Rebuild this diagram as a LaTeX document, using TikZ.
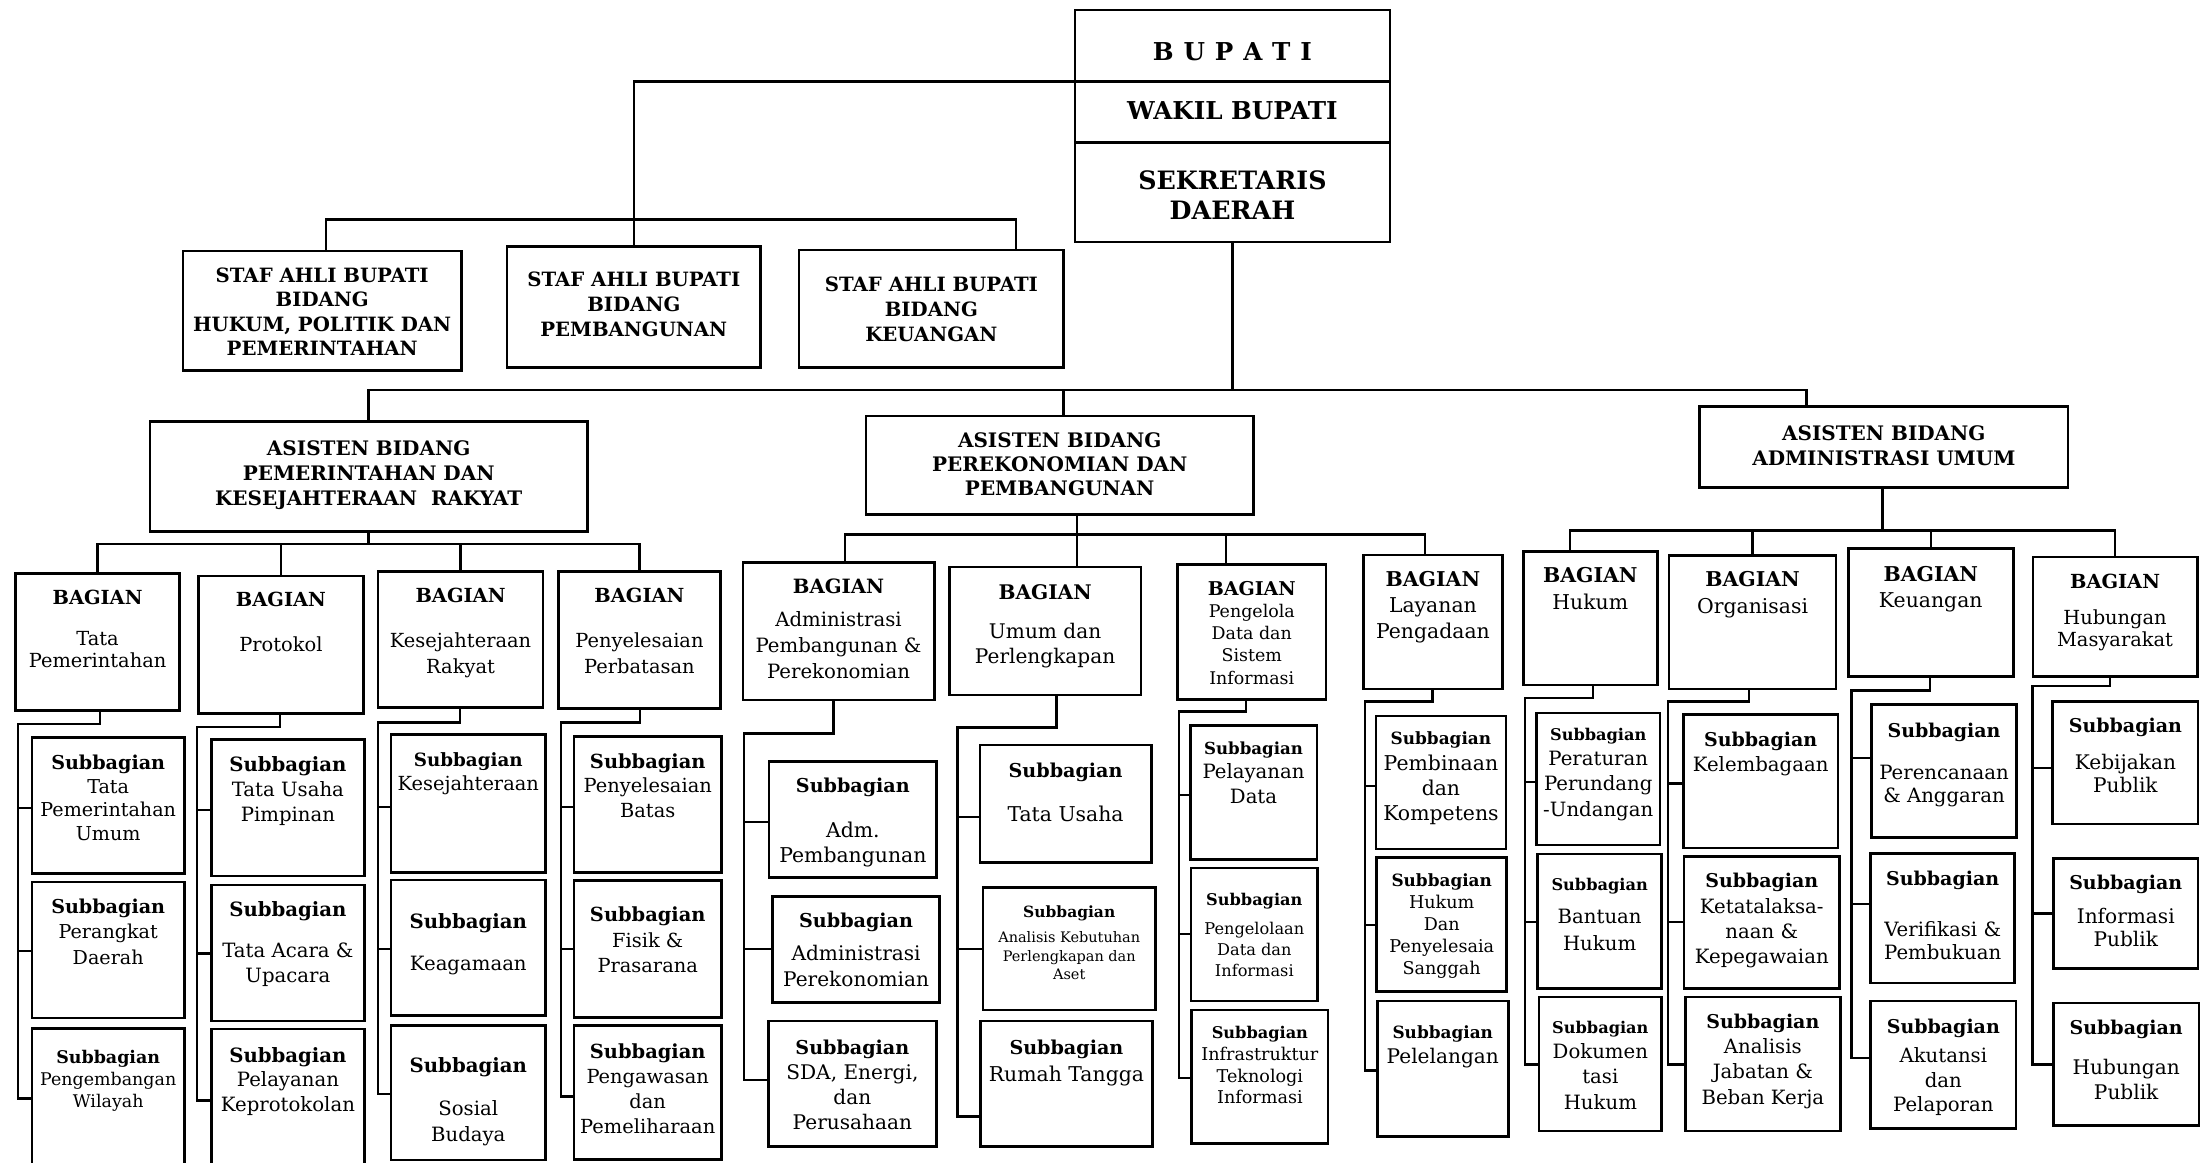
\documentclass[tikz,border=0pt]{standalone}
\usepackage{fontspec}
\setmainfont{DejaVu Serif}
\newcommand\B[1]{\textbf{#1}}
\newcommand\Bz[2]{{\fontsize{#1}{#1}\selectfont\bfseries #2}}
\tikzset{
  boxst/.style={draw, rectangle, line width=1.9pt, inner sep=0pt, outer sep=0pt},
  txtst/.style={inner sep=0pt, outer sep=0pt, align=center},
  ln/.style={line width=1.7pt}
}
\newcommand\bx[5]{\node[boxst, minimum width={(#4)-(#2)}, minimum height={(#5)-(#3)}] (#1) at ({((#2)+(#4))/2},{((#3)+(#5))/2}) {};}
\newcommand\tx[5]{\node[txtst, font=\fontsize{#3}{#4}\selectfont, anchor=north] (#1t) at ([yshift=-#2pt]#1.north) {#5};}
\newcommand\spine[8]{%
 \coordinate (#2c) at (#3,#4); \coordinate (#2j) at (#5,#4);
 \coordinate (#2k1) at (#5,#6); \coordinate (#2k2) at (#5,#7); \coordinate (#2k3) at (#5,#8);
 \draw[ln] (#1.south -| #2c) -- (#2c) -- (#2j) -- (#2k3) -- (#2s3.west |- #2k3);
 \draw[ln] (#2k1) -- (#2s1.west |- #2k1);
 \draw[ln] (#2k2) -- (#2s2.west |- #2k2);}
\begin{document}
\begin{tikzpicture}[x=1pt,y=-1pt]
\fill[white] (0,0) rectangle (1568,826);
\path[use as bounding box] (0,0) rectangle (1568,826);
\clip (0,0) rectangle (1568,826);
% top
\bx{Bup}{764}{7}{988}{58}
\bx{Wak}{764}{58}{988}{101.5}
\bx{Sek}{764}{101.5}{988}{172}
\tx{Bup}{23.5}{17.5}{21}{\B{B\hspace{7pt}U\hspace{7pt}P\hspace{7pt}A\hspace{7pt}T\hspace{7pt}I}}
\tx{Wak}{14.3}{17.5}{21}{\B{WAKIL BUPATI}}
\tx{Sek}{19.8}{18}{21.5}{\B{SEKRETARIS}\\\B{DAERAH}}
% staff
\bx{S1}{130}{178.4}{328}{263.5}
\tx{S1}{12}{14}{17.3}{\B{STAF AHLI BUPATI}\\\B{BIDANG}\\\B{HUKUM, POLITIK DAN}\\\B{PEMERINTAHAN}}
\bx{S2}{360.4}{175}{540.6}{261.4}
\tx{S2}{18.4}{14}{17.8}{\B{STAF AHLI BUPATI}\\\B{BIDANG}\\\B{PEMBANGUNAN}}
\bx{S3}{568}{177.7}{756}{261}
\tx{S3}{19}{14}{17.8}{\B{STAF AHLI BUPATI}\\\B{BIDANG}\\\B{KEUANGAN}}
% asisten
\bx{A1}{106.6}{299.5}{417.5}{377.7}
\tx{A1}{14}{14.2}{17.8}{\B{ASISTEN BIDANG}\\\B{PEMERINTAHAN DAN}\\\B{KESEJAHTERAAN\ \ RAKYAT}}
\bx{A2}{615.5}{295.7}{891}{365.5}
\tx{A2}{11.9}{14.2}{17.2}{\B{ASISTEN BIDANG}\\\B{PEREKONOMIAN DAN}\\\B{PEMBANGUNAN}}
\bx{A3}{1208}{289}{1470}{346.5}
\tx{A3}{13.5}{14.2}{17.7}{\B{ASISTEN BIDANG}\\\B{ADMINISTRASI UMUM}}
% bagian
\bx{bT}{11.2}{407.6}{127.5}{505}
\tx{bT}{12.1}{13.8}{16}{\B{BAGIAN}\\[12.7pt]Tata\\Pemerintahan}
\bx{bP}{141}{409.5}{258.4}{507}
\tx{bP}{11.5}{13.8}{17}{\B{BAGIAN}\\[14.5pt]Protokol}
\bx{bK}{268.7}{406}{386}{503}
\tx{bK}{12.2}{13.8}{18.6}{\B{BAGIAN}\\[12.9pt]Kesejahteraan\\Rakyat}
\bx{bY}{397}{406}{512}{503.5}
\tx{bY}{12.2}{13.8}{18.6}{\B{BAGIAN}\\[12.9pt]Penyelesaian\\Perbatasan}
\bx{bD}{528}{399.7}{664}{497.5}
\tx{bD}{12}{14}{18.3}{\B{BAGIAN}\\[5.2pt]Administrasi\\Pembangunan \&\\Perekonomian}
\bx{bU}{674.8}{403}{810.9}{494}
\tx{bU}{12.4}{14.3}{17.8}{\B{BAGIAN}\\[10.3pt]Umum dan\\Perlengkapan}
\bx{bG}{837}{401}{942.5}{497}
\tx{bG}{12.4}{12.4}{15.7}{\Bz{13.5}{BAGIAN}\\Pengelola\\Data dan\\Sistem\\Informasi}
\bx{bL}{969}{394.4}{1068}{489.7}
\tx{bL}{11.4}{14.5}{18.5}{\B{BAGIAN}\\Layanan\\Pengadaan}
\bx{bH}{1082.7}{392}{1178}{487}
\tx{bH}{11.4}{14.5}{18.9}{\B{BAGIAN}\\Hukum}
\bx{bO}{1186.4}{395}{1305}{489.7}
\tx{bO}{11.4}{14.5}{18.9}{\B{BAGIAN}\\Organisasi}
\bx{bE}{1313.7}{389.9}{1431}{481}
\tx{bE}{12.9}{14.5}{18}{\B{BAGIAN}\\Keuangan}
\bx{bM}{1445}{395.9}{1561.7}{481}
\tx{bM}{12}{13.8}{15.8}{\B{BAGIAN}\\[9.7pt]Hubungan\\Masyarakat}
% subbagian: Tata
\bx{Ts1}{22.8}{524}{131}{621}
\tx{Ts1}{12.6}{13.6}{16.8}{\B{Subbagian}\\Tata\\Pemerintahan\\Umum}
\bx{Ts2}{22.8}{627}{131}{723.5}
\tx{Ts2}{12}{13.6}{18}{\B{Subbagian}\\Perangkat\\Daerah}
\bx{Ts3}{22.8}{731}{131}{831}
\tx{Ts3}{15.3}{12.4}{15.8}{\B{Subbagian}\\Pengembangan\\Wilayah}
% Protokol
\bx{Ps1}{150.3}{525.7}{259}{622.6}
\tx{Ps1}{12.3}{14}{17.8}{\B{Subbagian}\\Tata Usaha\\Pimpinan}
\bx{Ps2}{150.3}{629}{259}{725.6}
\tx{Ps2}{12}{14}{18.3}{\B{Subbagian}\\[10.4pt]Tata Acara \&\\Upacara}
\bx{Ps3}{150.3}{731.5}{259}{832}
\tx{Ps3}{12.8}{14}{17.5}{\B{Subbagian}\\Pelayanan\\Keprotokolan}
% Kesejahteraan
\bx{Ks1}{278}{522}{387.7}{620}
\tx{Ks1}{12.9}{13.8}{17.2}{\Bz{13}{Subbagian}\\Kesejahteraan}
\bx{Ks2}{278}{625.5}{387.7}{722}
\tx{Ks2}{23.5}{14}{18}{\B{Subbagian}\\[12pt]Keagamaan}
\bx{Ks3}{278}{729}{387.7}{824.5}
\tx{Ks3}{23}{14}{18.6}{\B{Subbagian}\\[11.6pt]Sosial\\Budaya}
% Penyelesaian
\bx{Ys1}{408}{523.5}{512.8}{620}
\tx{Ys1}{12.2}{13.8}{17.4}{\B{Subbagian}\\Penyelesaian\\Batas}
\bx{Ys2}{408}{626}{512.8}{723}
\tx{Ys2}{18.6}{13.8}{18.2}{\B{Subbagian}\\Fisik \&\\Prasarana}
\bx{Ys3}{408}{729}{512.8}{824}
\tx{Ys3}{13}{13.8}{17.7}{\B{Subbagian}\\Pengawasan\\dan\\Pemeliharaan}
% Administrasi Pembangunan
\bx{Ds1}{546.7}{541.5}{665.7}{623.7}
\tx{Ds1}{11.4}{14.5}{17.2}{\Bz{13.6}{Subbagian}\\[15.2pt]Adm.\\Pembangunan}
\bx{Ds2}{549}{637}{668}{712.6}
\tx{Ds2}{12}{14.3}{18.3}{\Bz{13.6}{Subbagian}\\[4.9pt]Administrasi\\Perekonomian}
\bx{Ds3}{546}{725.7}{665.7}{815}
\tx{Ds3}{13.5}{14.3}{17.7}{\Bz{13.6}{Subbagian}\\SDA, Energi,\\dan\\Perusahaan}
% Umum
\bx{Us1}{696.5}{529.5}{818.3}{613}
\tx{Us1}{12.8}{14.5}{18}{\Bz{13.6}{Subbagian}\\[13.4pt]Tata Usaha}
\bx{Us2}{698.7}{631}{821.3}{718}
\tx{Us2}{12.8}{10.3}{13.3}{\Bz{11}{Subbagian}\\[4.4pt]Analisis Kebutuhan\\Perlengkapan dan\\Aset}
\bx{Us3}{697}{725.7}{819}{815}
\tx{Us3}{13.5}{14.5}{19.2}{\Bz{13.6}{Subbagian}\\Rumah Tangga}
% Pengelola
\bx{Gs1}{846}{515.7}{936}{611}
\tx{Gs1}{11.4}{14}{17.6}{\Bz{11.8}{Subbagian}\\Pelayanan\\Data}
\bx{Gs2}{846.6}{617}{936.5}{711.4}
\tx{Gs2}{17.6}{11.5}{15}{\B{Subbagian}\\[5.6pt]Pengelolaan\\Data dan\\Informasi}
\bx{Gs3}{847}{718}{944}{813}
\tx{Gs3}{11.7}{12.5}{15.4}{\Bz{11.5}{Subbagian}\\Infrastruktur\\Teknologi\\Informasi}
% Layanan
\bx{Ls1}{978}{508.9}{1070.4}{603.5}
\tx{Ls1}{11.4}{14.5}{18}{\Bz{12}{Subbagian}\\Pembinaan\\dan\\Kompetens}
\bx{Ls2}{978.5}{609.7}{1071}{704.8}
\tx{Ls2}{11.1}{12.5}{15.7}{\Bz{12}{Subbagian}\\Hukum\\Dan\\Penyelesaia\\Sanggah}
\bx{Ls3}{979}{711.5}{1072}{808}
\tx{Ls3}{17.2}{14.3}{18}{\Bz{12}{Subbagian}\\Pelelangan}
% Hukum
\bx{Hs1}{1092}{506.7}{1180}{600.6}
\tx{Hs1}{10.6}{14}{18}{\Bz{11.5}{Subbagian}\\Peraturan\\Perundang\\-Undangan}
\bx{Hs2}{1093}{607}{1181}{702.6}
\tx{Hs2}{17.4}{14}{18.8}{\Bz{11.5}{Subbagian}\\[4.6pt]Bantuan\\Hukum}
\bx{Hs3}{1094}{708.6}{1181}{804}
\tx{Hs3}{17.1}{14}{18}{\Bz{11.5}{Subbagian}\\Dokumen\\tasi\\Hukum}
% Organisasi
\bx{Os1}{1196.4}{508}{1306.5}{602.7}
\tx{Os1}{12.3}{14}{18}{\Bz{13.5}{Subbagian}\\Kelembagaan}
\bx{Os2}{1197}{608.7}{1307.5}{702.6}
\tx{Os2}{12.1}{14}{18}{\Bz{13.5}{Subbagian}\\Ketatalaksa-\\naan \&\\Kepegawaian}
\bx{Os3}{1198}{708.6}{1308}{804}
\tx{Os3}{12}{14}{18}{\Bz{13.5}{Subbagian}\\Analisis\\Jabatan \&\\Beban Kerja}
% Keuangan
\bx{Es1}{1330.3}{500.8}{1433.3}{595.3}
\tx{Es1}{12.9}{14}{16.8}{\Bz{13.5}{Subbagian}\\[13.2pt]Perencanaan\\\& Anggaran}
\bx{Es2}{1329.6}{606.7}{1432}{698.7}
\tx{Es2}{12.6}{14}{16.4}{\Bz{13.5}{Subbagian}\\[19.6pt]Verifikasi \&\\Pembukuan}
\bx{Es3}{1329.6}{711.5}{1433}{802}
\tx{Es3}{12.7}{14}{17.2}{\Bz{13.5}{Subbagian}\\[3.8pt]Akutansi\\dan\\Pelaporan}
% Hubungan Masyarakat
\bx{Ms1}{1459}{498.7}{1562.4}{585.6}
\tx{Ms1}{12}{14.3}{16}{\Bz{13.5}{Subbagian}\\[10.1pt]Kebijakan\\Publik}
\bx{Ms2}{1459.5}{610}{1562.4}{688.3}
\tx{Ms2}{12.3}{14.3}{16.4}{\Bz{13.5}{Subbagian}\\[7.6pt]Informasi\\Publik}
\bx{Ms3}{1459.5}{713}{1563}{800}
\tx{Ms3}{11.8}{14.3}{18}{\Bz{13.5}{Subbagian}\\[10.5pt]Hubungan\\Publik}
% connectors top
\draw[ln] (Wak.north west) -| (S2.north);
\coordinate (sh1) at (231.6,156); \coordinate (sh2) at (722,156);
\draw[ln] (S1.north -| sh1) -- (sh1) -- (sh2) -- (S3.north -| sh2);
\coordinate (ahL) at (262,277); \coordinate (ahR) at (1284,277); \coordinate (ahM) at (756,277);
\draw[ln] (Sek.south) -- (Sek.south |- ahL);
\draw[ln] (A1.north -| ahL) -- (ahL) -- (ahR) -- (A3.north -| ahR);
\draw[ln] (ahM) -- (A2.north -| ahM);
% asisten 1 -> bagian
\coordinate (h1) at (0,386.6);
\draw[ln] (A1.south) -- (A1.south |- h1);
\draw[ln] (bT.north) -- (bT.north |- h1) -- (bY.north |- h1) -- (bY.north);
\draw[ln] (bP.north) -- (bP.north |- h1);
\draw[ln] (bK.north) -- (bK.north |- h1);
% asisten 2 -> bagian
\coordinate (h2L) at (600.8,380); \coordinate (h2U) at (765.6,380);
\coordinate (h2G) at (871.6,380); \coordinate (h2R) at (1013,380);
\draw[ln] (A2.south -| h2U) -- (bU.north -| h2U);
\draw[ln] (bD.north -| h2L) -- (h2L) -- (h2R) -- (bL.north -| h2R);
\draw[ln] (h2G) -- (bG.north -| h2G);
% asisten 3 -> bagian
\coordinate (h3L) at (1116,377); \coordinate (h3A) at (1338,377);
\draw[ln] (A3.south -| h3A) -- (h3A);
\draw[ln] (bH.north -| h3L) -- (h3L) -- (bM.north |- h3L) -- (bM.north);
\draw[ln] (bO.north) -- (bO.north |- h3L);
\draw[ln] (bE.north) -- (bE.north |- h3L);
% spines
\spine{bT}{T}{71}{514.8}{12.6}{574.4}{676.1}{780.7}
\spine{bP}{P}{199}{516.7}{140}{575.8}{677.6}{782.1}
\spine{bK}{K}{327}{513.6}{268.7}{573.8}{674.7}{777.8}
\spine{bY}{Y}{455}{513.6}{398.6}{573.8}{674.7}{779.3}
\spine{bD}{D}{592.5}{521.4}{528.8}{584.4}{674.7}{767.8}
\spine{bU}{U}{751}{517}{680.7}{580.7}{674.7}{793.6}
\spine{bG}{G}{885.6}{505.7}{837.8}{565.2}{663.8}{766.4}
\spine{bL}{L}{1018.2}{498.7}{970}{558.7}{657.6}{760.8}
\spine{bH}{H}{1132.4}{496.3}{1083.9}{555.7}{655.2}{756.6}
\spine{bO}{O}{1243.3}{498.7}{1185.7}{556.9}{655.2}{756.6}
\spine{bE}{E}{1371.7}{490.9}{1316}{538.9}{642.7}{751.8}
\spine{bM}{M}{1499.6}{487.4}{1444.7}{545.8}{649.3}{756.6}
\end{tikzpicture}
\end{document}
